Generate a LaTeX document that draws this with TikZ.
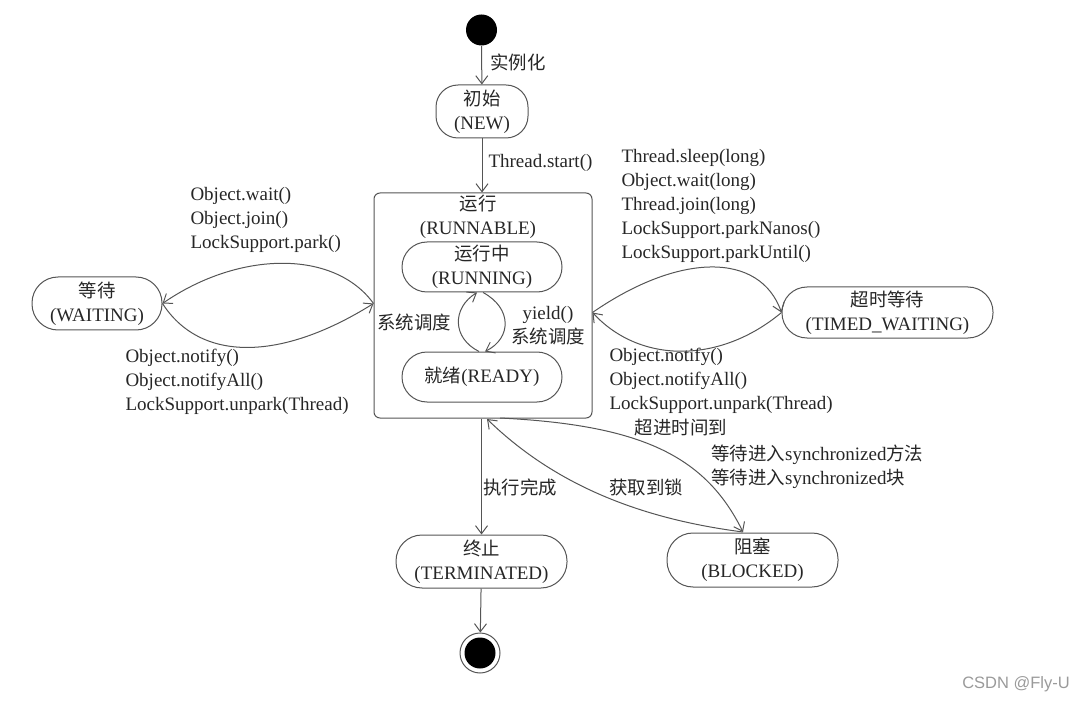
\documentclass[tikz,border=0pt]{standalone}
\usepackage{fontspec}
\setmainfont{Liberation Serif}
\newfontfamily\cjk[Scale=0.97]{Noto Sans CJK SC}
\newfontfamily\wmfont{Liberation Sans}
\usetikzlibrary{arrows.meta}
\definecolor{linec}{HTML}{555555}
\definecolor{textc}{HTML}{262626}
\definecolor{wmc}{HTML}{9A9A9A}
\begin{document}
\begin{tikzpicture}[x=1pt,y=-1pt,line width=1pt,
  every node/.style={font=\fontsize{19}{24}\selectfont, text=textc},
  state/.style={draw=linec, rounded corners=22pt, align=center, inner sep=0pt},
  lbl/.style={align=left, inner sep=0pt, anchor=west},
  arr/.style={draw=linec, -{Straight Barb[length=8pt,width=12pt]}}]
\useasboundingbox (0,0) rectangle (1087,703);
% initial and final
\node[circle, fill=black, minimum size=31pt, inner sep=0pt] (start) at (481.5,30) {};
\node[circle, draw=linec, minimum size=40pt, inner sep=0pt] (final) at (480,653) {};
\node[circle, fill=black, minimum size=31pt, inner sep=0pt] (finalin) at (480,653) {};
% states
\node[state, minimum width=92pt, minimum height=53pt] (new) at (482,111.5) {{\cjk 初始}\\(NEW)};
\node[draw=linec, rounded corners=6pt, minimum width=218pt, minimum height=225pt, inner sep=0pt] (runnable) at (483,305.5) {};
\node[align=center, inner sep=0pt] (rtitle) at (478,217) {{\cjk 运行}\\(RUNNABLE)};
\node[state, rounded corners=25pt, minimum width=160pt, minimum height=50pt] (running) at (482,267) {{\cjk 运行中}\\(RUNNING)};
\node[state, rounded corners=25pt, minimum width=160pt, minimum height=50pt] (ready) at (482,377) {{\cjk 就绪}(READY)};
\node[state, rounded corners=26pt, minimum width=130pt, minimum height=53pt] (waiting) at (97,303.5) {{\cjk 等待}\\(WAITING)};
\node[state, rounded corners=25pt, minimum width=211pt, minimum height=51pt] (timed) at (887.5,312.5) {{\cjk 超时等待}\\(TIMED\_WAITING)};
\node[state, rounded corners=26pt, minimum width=171pt, minimum height=53pt] (term) at (481.5,561.5) {{\cjk 终止}\\(TERMINATED)};
\node[state, rounded corners=26pt, minimum width=171pt, minimum height=54pt] (blocked) at (752.5,560) {{\cjk 阻塞}\\(BLOCKED)};
% helper coordinates
\coordinate (wl) at (waiting.east);
\coordinate (rl) at (runnable.west |- waiting.east);
\coordinate (rr) at (runnable.east |- timed.west);
\coordinate (tl) at (timed.west);
\coordinate (rb1) at (487,419);
\coordinate (rb2) at (500,418);
\coordinate (bt) at (743,532);
% connectors
\draw[arr] (start) -- (new);
\draw[arr] (new) -- (new.south |- runnable.north);
\draw[arr] (runnable.south -| term.north) -- (term);
\draw[arr] (term) -- (final);
% waiting lens
\draw[arr] (rl) .. controls (335,250) and (240,250) .. (wl);
\draw[arr] (wl) .. controls (200,362) and (280,362) .. (rl);
% timed lens
\draw[arr] (rr) .. controls (680,252) and (760,252) .. (tl);
\draw[arr] (tl) .. controls (720,364) and (640,364) .. (rr);
% running/ready loop
\draw[arr] ([xshift=-3pt]ready.north) .. controls (452,338) and (452,308) .. ([xshift=-5pt]running.south);
\draw[arr] ([xshift=1pt]running.south) .. controls (512,308) and (512,338) .. ([xshift=3pt]ready.north);
% blocked
\draw[arr] (rb2) .. controls (640,425) and (705,455) .. (bt);
\draw[arr] (bt) .. controls (650,520) and (560,490) .. (rb1);
% labels
\node[lbl] (l1) at (490,62) {\cjk 实例化};
\node[lbl] (l2) at (488,163) {Thread.start()};
\node[lbl] (l3) at (190,220) {Object.wait()\\Object.join()\\LockSupport.park()};
\node[lbl] (l4) at (125,382) {Object.notify()\\Object.notifyAll()\\LockSupport.unpark(Thread)};
\node[lbl] (l5) at (621,206) {Thread.sleep(long)\\Object.wait(long)\\Thread.join(long)\\LockSupport.parkNanos()\\LockSupport.parkUntil()};
\node[lbl] (l6) at (609,381) {Object.notify()\\Object.notifyAll()\\LockSupport.unpark(Thread)};
\node[lbl] (l7) at (377,322) {\cjk 系统调度};
\node[align=center, inner sep=0pt] (l8) at (548,326) {yield()\\{\cjk 系统调度}};
\node[inner sep=0pt] (l9) at (681,428) {\cjk 超进时间到};
\node[lbl] (l10) at (711,467) {{\cjk 等待进入}synchronized{\cjk 方法}\\{\cjk 等待进入}synchronized{\cjk 块}};
\node[inner sep=0pt] (l11) at (520,487) {\cjk 执行完成};
\node[inner sep=0pt] (l12) at (646,487) {\cjk 获取到锁};
\node[inner sep=0pt, text=wmc, font=\wmfont\fontsize{16.5}{20}\selectfont] (wm) at (1016,684) {CSDN @Fly-U};
\end{tikzpicture}
\end{document}
